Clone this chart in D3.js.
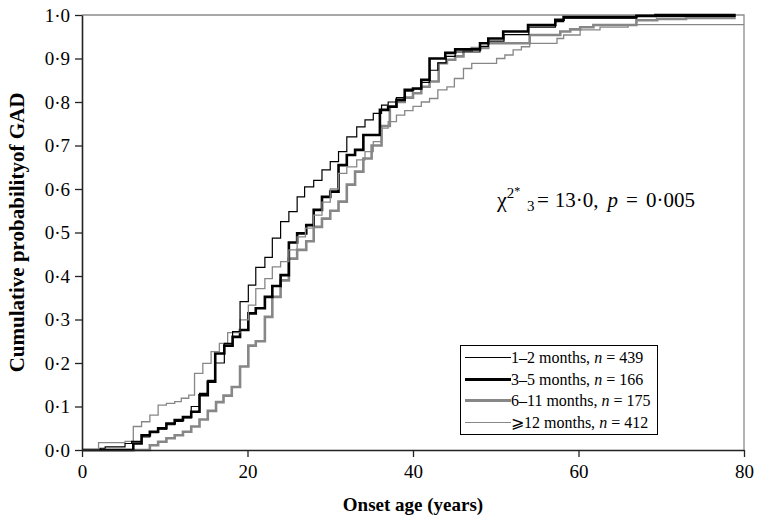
<!DOCTYPE html>
<html>
<head>
<meta charset="utf-8">
<script src="https://cdnjs.cloudflare.com/ajax/libs/d3/7.8.5/d3.min.js"></script>
<style>
body { margin: 0; background: #fff; overflow: hidden; }
svg { display: block; }
text { font-family: "Liberation Serif", "Times New Roman", serif; fill: #000; }
</style>
</head>
<body>
<div class="chart"></div>
<script>
// step points: age (years) where a step happens, cumulative prob after it
var age12 = [0, 2.2, 2.8, 5.2, 6, 7.2, 8.2, 9.2, 10.2, 11.2, 12.2, 13.2, 14.2, 15.2, 16.1, 17.2, 18.2, 19.1, 20.1, 21, 22.1, 23, 24, 25, 26, 26.9, 28, 29, 30, 31, 32, 33.2, 34.2, 35.2, 36.2, 37, 38, 39, 40, 41, 42, 43, 44, 45.1, 48.1, 49.1, 51, 54, 57.2, 58.2, 67, 79];
var prob12 = [0, 0.004, 0.007, 0.015, 0.02, 0.03, 0.04, 0.048, 0.058, 0.066, 0.074, 0.1, 0.13, 0.16, 0.2, 0.245, 0.272, 0.341, 0.379, 0.42, 0.443, 0.487, 0.525, 0.548, 0.582, 0.605, 0.62, 0.644, 0.663, 0.686, 0.72, 0.743, 0.759, 0.774, 0.793, 0.8, 0.81, 0.825, 0.83, 0.845, 0.873, 0.89, 0.905, 0.915, 0.928, 0.94, 0.955, 0.972, 0.985, 0.993, 0.997, 0.997];

var age35 = [0, 6.2, 7.2, 8.2, 9.2, 10.2, 11.2, 12.2, 13.2, 14.2, 15.2, 16.1, 17.2, 18.2, 19.1, 20.1, 21, 22.1, 23, 24, 25, 26, 27.1, 28, 29, 30, 31, 32, 33, 34, 36, 37, 38, 39, 40, 41, 42, 43.9, 45.1, 48.1, 49.1, 50.9, 53.9, 57.2, 58.2, 67, 69.3, 79];
var prob35 = [0, 0.015, 0.034, 0.042, 0.05, 0.061, 0.069, 0.076, 0.088, 0.126, 0.157, 0.222, 0.24, 0.26, 0.276, 0.314, 0.326, 0.352, 0.377, 0.402, 0.477, 0.498, 0.517, 0.552, 0.582, 0.594, 0.655, 0.678, 0.69, 0.724, 0.782, 0.789, 0.805, 0.828, 0.831, 0.851, 0.9, 0.913, 0.921, 0.935, 0.946, 0.962, 0.977, 0.989, 0.995, 0.998, 1.0, 1.0];

var age611 = [0, 8.2, 9.2, 10.2, 11.2, 12.2, 13.2, 14.2, 15.2, 16.2, 17.1, 18.1, 19.1, 20.1, 21, 22.1, 23, 24, 25, 26, 27.1, 28, 29, 30, 31, 32, 33, 34, 35, 36.2, 37.2, 38, 39, 40, 41, 42, 43.1, 44.1, 45.1, 46.1, 47.1, 49.1, 54.1, 57.8, 59, 60.2, 61.8, 67, 69.5, 73, 79];
var prob611 = [0, 0.011, 0.019, 0.027, 0.034, 0.042, 0.054, 0.07, 0.09, 0.11, 0.125, 0.145, 0.192, 0.24, 0.25, 0.306, 0.352, 0.39, 0.44, 0.46, 0.48, 0.513, 0.532, 0.55, 0.571, 0.61, 0.64, 0.67, 0.7, 0.745, 0.79, 0.8, 0.81, 0.82, 0.835, 0.847, 0.889, 0.897, 0.905, 0.918, 0.924, 0.935, 0.954, 0.962, 0.967, 0.972, 0.977, 0.988, 0.991, 0.993, 0.993];

var age12plus = [0, 2, 5.2, 6.2, 7.2, 8.2, 9.2, 10.2, 11.2, 12, 12.9, 13.6, 14.6, 15.6, 16.6, 17.6, 19.1, 20.1, 21, 22.1, 23, 24, 25, 26, 27, 28, 29, 30, 31, 32, 33.2, 34.2, 35.2, 36.2, 37, 38, 39, 40, 41, 42, 43, 44.1, 45, 46.1, 47.1, 50.1, 51.1, 52.1, 53.1, 54.1, 57.4, 58.2, 60.2, 62.6, 66, 80];
var prob12plus = [0, 0.017, 0.02, 0.054, 0.065, 0.08, 0.103, 0.107, 0.111, 0.119, 0.126, 0.176, 0.199, 0.226, 0.245, 0.27, 0.299, 0.333, 0.371, 0.394, 0.421, 0.433, 0.46, 0.49, 0.51, 0.54, 0.57, 0.6, 0.636, 0.651, 0.667, 0.686, 0.709, 0.74, 0.755, 0.77, 0.78, 0.79, 0.8, 0.808, 0.828, 0.835, 0.854, 0.877, 0.889, 0.9, 0.908, 0.92, 0.927, 0.935, 0.946, 0.954, 0.966, 0.972, 0.978, 0.978];

var groupLabels = ["1–2 months, ", "3–5 months, ", "6–11 months, ", "⩾12 months, "];
var groupN = [439, 166, 175, 412];

var xTicks = [0, 20, 40, 60, 80];
var yTicks = [0, 0.1, 0.2, 0.3, 0.4, 0.5, 0.6, 0.7, 0.8, 0.9, 1.0];

// look of each group (same order as above)
var lineStyles = [
    {color: "#000", width: 1.2},
    {color: "#000", width: 2.6},
    {color: "#878787", width: 2.6},
    {color: "#878787", width: 1.3}
];

var width = 757,
    height = 517,
    plotLeft = 82, plotRight = 744, plotTop = 15, plotBottom = 450;

var series = [
    {ages: age12, probs: prob12},
    {ages: age35, probs: prob35},
    {ages: age611, probs: prob611},
    {ages: age12plus, probs: prob12plus}
].map(function(s, i){
    return {
        label: groupLabels[i],
        n: groupN[i],
        style: lineStyles[i],
        points: s.ages.map(function(a, j){ return [a, s.probs[j]]; })
    };
});

var x = d3.scaleLinear().domain([0, 80]).range([plotLeft, plotRight]);
var y = d3.scaleLinear().domain([0, 1]).range([plotBottom, plotTop]);

var svg = d3.select(".chart").append("svg")
    .attr("width", width)
    .attr("height", height);

var fmt = function(d){ return d3.format(".1f")(d).replace(".", "·"); };

// frame top / right (light)
svg.append("path")
    .attr("d", "M" + plotLeft + "," + plotTop + "H" + plotRight + "V" + plotBottom)
    .attr("fill", "none")
    .attr("stroke", "#8c8c8c")
    .attr("stroke-width", 1.3);

// curves
var line = d3.line()
    .x(function(d){ return x(d[0]); })
    .y(function(d){ return y(d[1]); })
    .curve(d3.curveStepAfter);

// draw thin ones last so they stay visible over the thick ones
var drawOrder = [2, 1, 3, 0];
svg.append("g").selectAll("path")
    .data(drawOrder.map(function(i){ return series[i]; }))
    .enter()
    .append("path")
    .attr("d", function(d){ return line(d.points); })
    .attr("fill", "none")
    .attr("stroke", function(d){ return d.style.color; })
    .attr("stroke-width", function(d){ return d.style.width; });

// axes
var yAxis = svg.append("g")
    .attr("transform", "translate(" + plotLeft + ",0)")
    .call(d3.axisLeft(y).tickValues(yTicks).tickFormat(fmt).tickSize(7).tickSizeOuter(0).tickPadding(5));

var xAxis = svg.append("g")
    .attr("transform", "translate(0," + plotBottom + ")")
    .call(d3.axisBottom(x).tickValues(xTicks).tickFormat(d3.format("d")).tickSize(7).tickSizeOuter(0).tickPadding(8));

[yAxis, xAxis].forEach(function(ax){
    ax.select(".domain").attr("stroke", "#222").attr("stroke-width", 1.6);
    ax.selectAll(".tick line").attr("stroke", "#222").attr("stroke-width", 1.3);
    ax.selectAll(".tick text")
        .attr("font-family", "'Liberation Serif', serif")
        .attr("font-size", 19)
        .attr("fill", "#000");
});

// axis titles
svg.append("text")
    .attr("transform", "translate(24," + ((plotTop + plotBottom) / 2) + ") rotate(-90)")
    .attr("text-anchor", "middle")
    .attr("font-size", 21)
    .attr("font-weight", "bold")
    .text("Cumulative probabilityof GAD");

svg.append("text")
    .attr("x", (plotLeft + plotRight) / 2)
    .attr("y", 511)
    .attr("text-anchor", "middle")
    .attr("font-size", 19)
    .attr("font-weight", "bold")
    .text("Onset age (years)");

// test statistic: chi symbol with its marks, then the rest (gaps via dx)
var chi = svg.append("text")
    .attr("x", 497)
    .attr("y", 207)
    .attr("font-size", 22);
chi.append("tspan").text("χ");
chi.append("tspan").attr("dy", -9).attr("font-size", 15).text("2");
chi.append("tspan").attr("dy", -3).attr("font-size", 12).text("*");
chi.append("tspan").attr("x", 527).attr("dy", 16).attr("font-size", 15).text("3");

var stat = svg.append("text")
    .attr("x", 537)
    .attr("y", 207)
    .attr("font-size", 21);
stat.append("tspan").text("=");
stat.append("tspan").attr("dx", 6).text("13·0,");
stat.append("tspan").attr("dx", 9).attr("font-style", "italic").text("p");
stat.append("tspan").attr("dx", 8).text("=");
stat.append("tspan").attr("dx", 8).text("0·005");

// legend
var legend = svg.append("g").attr("transform", "translate(460,345)");
legend.append("rect")
    .attr("x", 0.5).attr("y", 0.5)
    .attr("width", 197)
    .attr("height", 89)
    .attr("fill", "#fff")
    .attr("stroke", "#000")
    .attr("stroke-width", 1);

var rows = legend.selectAll(".row")
    .data(series)
    .enter()
    .append("g")
    .attr("class", "row")
    .attr("transform", function(d, i){ return "translate(0," + Math.round(12 + i * 21.5) + ")"; });

rows.append("line")
    .attr("x1", 5).attr("x2", 51)
    .attr("y1", 0.5).attr("y2", 0.5)
    .attr("stroke", function(d){ return d.style.color; })
    .attr("stroke-width", function(d){ return d.style.width < 2 ? 1 : 3; });

var lt = rows.append("text")
    .attr("x", 51)
    .attr("dy", 6)
    .attr("font-size", 16);
lt.append("tspan").text(function(d){ return d.label; });
lt.append("tspan").attr("font-style", "italic").text("n");
lt.append("tspan").text(function(d){ return " = " + d.n; });
</script>
</body>
</html>
